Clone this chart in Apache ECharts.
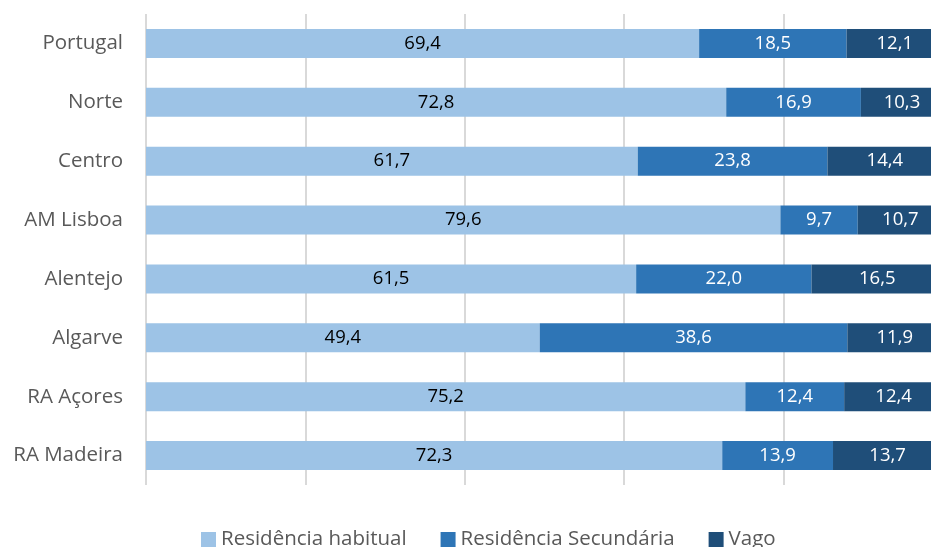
<!DOCTYPE html>
<html>
<head>
<meta charset="utf-8">
<script src="https://cdn.jsdelivr.net/npm/echarts@6/dist/echarts.min.js"></script>
<style>
  html, body { margin: 0; padding: 0; background: #fff; overflow: hidden; }
  #chart { width: 990px; height: 547px; }
</style>
</head>
<body>
<div id="chart"></div>
<script>
// Regions, top to bottom
const regions = ['Portugal', 'Norte', 'Centro', 'AM Lisboa', 'Alentejo', 'Algarve', 'RA Açores', 'RA Madeira'];
// Share of dwellings by type of use (%)
const habitual = [69.4, 72.8, 61.7, 79.6, 61.5, 49.4, 75.2, 72.3];
const secundaria = [18.5, 16.9, 23.8, 9.7, 22.0, 38.6, 12.4, 13.9];
const vago = [12.1, 10.3, 14.4, 10.7, 16.5, 11.9, 12.4, 13.7];
const seriesNames = ['Residência habitual', 'Residência Secundária', 'Vago'];

const FONT = '"Open Sans", "Noto Sans", sans-serif';
const fmt = v => v.toFixed(1).replace('.', ',');

function makeSeries(name, data, color, labelColor) {
  return {
    name: name,
    type: 'bar',
    stack: 'total',
    data: data,
    barWidth: 29,
    itemStyle: { color: color },
    label: {
      show: true,
      position: 'inside',
      color: labelColor,
      fontFamily: FONT,
      fontSize: 18.5,
      formatter: p => fmt(p.value)
    },
    emphasis: { disabled: true }
  };
}

const chart = echarts.init(document.getElementById('chart'));
chart.setOption({
  animation: false,
  grid: { left: 146, right: 47, top: 14, bottom: 62, containLabel: false },
  xAxis: {
    type: 'value',
    min: 0,
    max: 100,
    interval: 20,
    axisLabel: { show: false },
    axisLine: { show: false },
    axisTick: { show: false },
    splitLine: { show: true, lineStyle: { color: '#d9d9d9', width: 2 } }
  },
  yAxis: {
    type: 'category',
    data: regions,
    inverse: true,
    axisLine: { show: false },
    axisTick: { show: false },
    axisLabel: { color: '#595959', fontFamily: FONT, fontSize: 20.5, margin: 23 }
  },
  legend: {
    top: 524,
    left: 196,
    itemWidth: 15,
    itemHeight: 15,
    itemGap: 34,
    icon: 'rect',
    textStyle: { color: '#595959', fontFamily: FONT, fontSize: 20.5 },
    data: seriesNames
  },
  series: [
    makeSeries(seriesNames[0], habitual, '#9dc3e6', '#000000'),
    makeSeries(seriesNames[1], secundaria, '#2e75b6', '#ffffff'),
    makeSeries(seriesNames[2], vago, '#1f4e79', '#ffffff')
  ]
});
</script>
</body>
</html>
